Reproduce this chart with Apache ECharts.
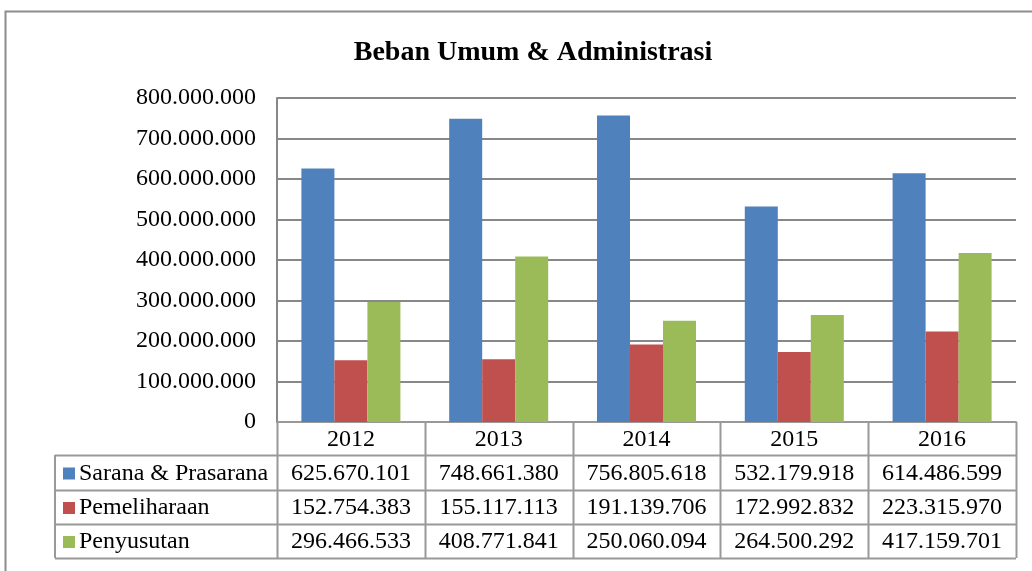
<!DOCTYPE html>
<html><head><meta charset="utf-8">
<script src="https://cdn.jsdelivr.net/npm/echarts@6/dist/echarts.min.js"></script>
<style>html,body{margin:0;padding:0;background:#fff}#c{width:1032px;height:571px}</style>
</head><body><div id="c"></div>
<script>
var categories = ['2012','2013','2014','2015','2016'];
var seriesNames = ['Sarana & Prasarana','Pemeliharaan','Penyusutan'];
var sarana = [625670101, 748661380, 756805618, 532179918, 614486599];
var pemeliharaan = [152754383, 155117113, 191139706, 172992832, 223315970];
var penyusutan = [296466533, 408771841, 250060094, 264500292, 417159701];
var colors = ['#4F81BD','#C0504D','#9BBB59'];
var yTicks = {min:0, max:800000000, interval:100000000};

function fmt(v){ return String(Math.round(v)).replace(/\B(?=(\d{3})+(?!\d))/g,'.'); }

var FONT = '"Liberation Serif","Times New Roman",serif';
var G = {left:277, top:98, right:1016, bottom:422};
var rowH = [422, 455, 490, 524, 558];
var tableLeft = 55;
var lineColor = '#999999';

var chart = echarts.init(document.getElementById('c'));
var allData = [sarana, pemeliharaan, penyusutan];

var graphics = [];
graphics.push({type:'rect', shape:{x:5.5,y:11.5,width:1040,height:580}, style:{fill:'none',stroke:'#8c8c8c',lineWidth:2}, silent:true});
var catW = (G.right-G.left)/categories.length;
for (var i=0;i<=categories.length;i++){
  var x = Math.round(G.left + i*catW)+0.5;
  graphics.push({type:'line', shape:{x1:x,y1:G.bottom,x2:x,y2:rowH[4]}, style:{stroke:lineColor,lineWidth:2}, silent:true});
}
graphics.push({type:'line', shape:{x1:tableLeft,y1:rowH[1],x2:tableLeft,y2:rowH[4]}, style:{stroke:lineColor,lineWidth:2}, silent:true});
for (var r=1;r<rowH.length;r++){
  graphics.push({type:'line', shape:{x1:tableLeft,y1:rowH[r]+0.5,x2:G.right,y2:rowH[r]+0.5}, style:{stroke:lineColor,lineWidth:2}, silent:true});
}
for (var i=0;i<categories.length;i++){
  graphics.push({type:'text', x:G.left+(i+0.5)*catW, y:(rowH[0]+rowH[1])/2+1, style:{text:categories[i], fill:'#000', font:'24px '+FONT, textAlign:'center', textVerticalAlign:'middle'}, silent:true});
}
for (var s=0;s<3;s++){
  var cy = (rowH[s+1]+rowH[s+2])/2+1;
  graphics.push({type:'rect', shape:{x:63,y:cy-6,width:12,height:12}, style:{fill:colors[s]}, silent:true});
  graphics.push({type:'text', x:79, y:cy, style:{text:seriesNames[s], fill:'#000', font:'24px '+FONT, textAlign:'left', textVerticalAlign:'middle'}, silent:true});
  for (var i=0;i<categories.length;i++){
    graphics.push({type:'text', x:G.left+(i+0.5)*catW, y:cy, style:{text:fmt(allData[s][i]), fill:'#000', font:'24px '+FONT, textAlign:'center', textVerticalAlign:'middle'}, silent:true});
  }
}

chart.setOption({
  animation:false,
  title:{text:'Beban Umum & Administrasi', left:528, top:34, textAlign:'center',
    textStyle:{fontFamily:FONT, fontSize:28, fontWeight:'bold', color:'#000'}},
  grid:{left:G.left, top:G.top, width:G.right-G.left, height:G.bottom-G.top, containLabel:false},
  xAxis:{type:'category', data:categories, axisLabel:{show:false}, axisTick:{show:false},
    axisLine:{show:true, lineStyle:{color:lineColor,width:2}}},
  yAxis:{type:'value', min:yTicks.min, max:yTicks.max, interval:yTicks.interval,
    axisLine:{show:true, lineStyle:{color:'#888',width:2}}, axisTick:{show:false},
    splitLine:{lineStyle:{color:'#888',width:2}},
    axisLabel:{formatter:function(v){return fmt(v);}, fontFamily:FONT, fontSize:24, color:'#000', margin:21}},
  series: allData.map(function(d,s){
    return {type:'bar', name:seriesNames[s], data:d, barGap:'0%', barCategoryGap:'33%',
      itemStyle:{color:colors[s]}};
  }),
  graphic:graphics
});
</script></body></html>
